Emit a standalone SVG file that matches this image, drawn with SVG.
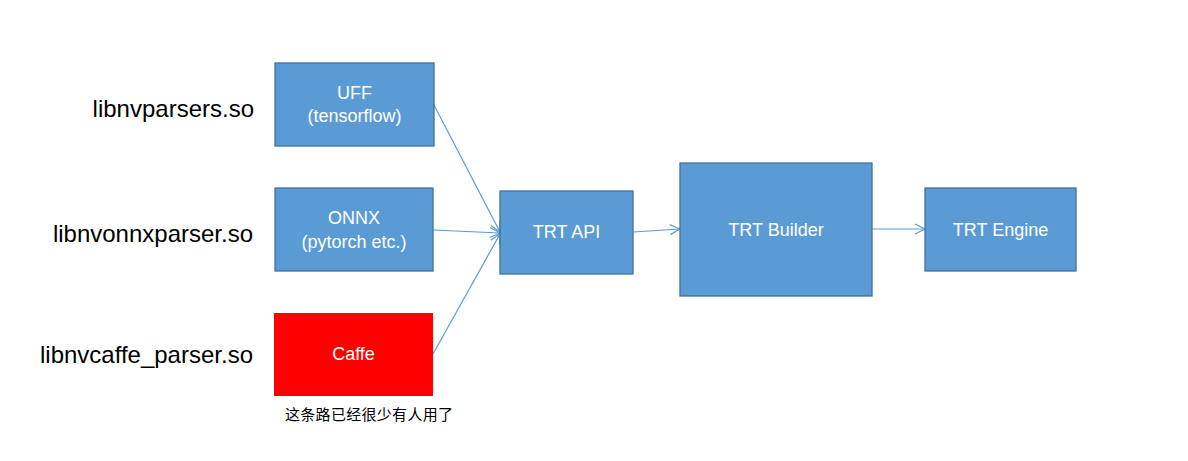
<svg xmlns="http://www.w3.org/2000/svg" width="1188" height="461" viewBox="0 0 1188 461">
<defs>
<style>
.box{fill:#5B9BD5;stroke:#41719C;stroke-width:1.3}
.bt{font-family:"Liberation Sans",Arial,sans-serif;font-size:18px;fill:#fff;text-anchor:middle}
.lib{font-family:"Liberation Sans",Arial,sans-serif;font-size:24px;fill:#000;text-anchor:end}
.cn{font-family:"Noto Sans CJK SC",sans-serif;font-size:15px;fill:#000;letter-spacing:0.3px}
.edge{stroke:#5B9BD5;stroke-width:1.2;fill:none}
</style>
<marker id="arr" viewBox="0 0 12 12" refX="11" refY="6" markerWidth="12" markerHeight="12" markerUnits="userSpaceOnUse" orient="auto">
<path d="M1,1 L11,6 L1,11" fill="none" stroke="#5B9BD5" stroke-width="1.2"/>
</marker>
</defs>
<rect width="1188" height="461" fill="#fff"/>
<g id="labels">
<text class="lib" x="254" y="117">libnvparsers.so</text>
<text class="lib" x="253" y="242">libnvonnxparser.so</text>
<text class="lib" x="253" y="363">libnvcaffe_parser.so</text>
</g>
<g id="connectors">
<line class="edge" x1="434" y1="105" x2="500" y2="232" marker-end="url(#arr)"/>
<line class="edge" x1="433" y1="230" x2="500" y2="233" marker-end="url(#arr)"/>
<line class="edge" x1="433" y1="354" x2="500" y2="234" marker-end="url(#arr)"/>
<line class="edge" x1="633" y1="232" x2="680" y2="229" marker-end="url(#arr)"/>
<line class="edge" x1="872" y1="229" x2="925" y2="229" marker-end="url(#arr)"/>
</g>
<g id="uff">
<rect class="box" x="275" y="63" width="159" height="83"/>
<text class="bt" x="354.5" y="99">UFF</text>
<text class="bt" x="354.5" y="122">(tensorflow)</text>
</g>
<g id="onnx">
<rect class="box" x="275" y="188" width="158" height="83"/>
<text class="bt" x="354" y="224">ONNX</text>
<text class="bt" x="354" y="248">(pytorch etc.)</text>
</g>
<g id="caffe">
<rect x="274" y="313" width="159" height="83" fill="#FF0000"/>
<text class="bt" x="353.5" y="360">Caffe</text>
</g>
<g id="note">
<text class="cn" x="285" y="420">这条路已经很少有人用了</text>
</g>
<g id="trtapi">
<rect class="box" x="500" y="191" width="133" height="83"/>
<text class="bt" x="566.5" y="238">TRT API</text>
</g>
<g id="trtbuilder">
<rect class="box" x="680" y="163" width="192" height="133"/>
<text class="bt" x="776" y="236">TRT Builder</text>
</g>
<g id="trtengine">
<rect class="box" x="925" y="188" width="151" height="83"/>
<text class="bt" x="1000.5" y="236">TRT Engine</text>
</g>
</svg>
